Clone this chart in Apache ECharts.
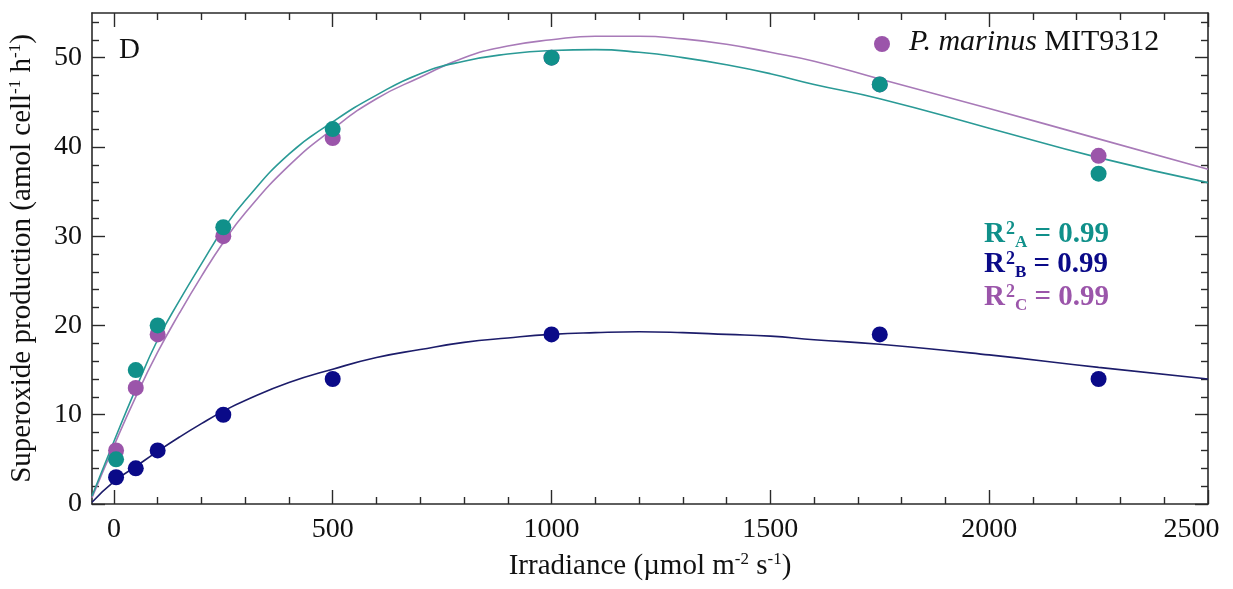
<!DOCTYPE html>
<html>
<head>
<meta charset="utf-8">
<script src="https://cdn.jsdelivr.net/npm/echarts@6/dist/echarts.min.js"></script>
<style>
html,body{margin:0;padding:0;background:#fff;}
#c{width:1233px;height:589px;}
</style>
</head>
<body>
<div id="c"></div>
<script>
// Measured points
const irradiance = [5, 50, 100, 250, 500, 1000, 1750, 2250];
const seriesA = [5, 15, 20, 31, 42, 50, 47, 37];
const seriesB = [3, 4, 6, 10, 14, 19, 19, 14];
const seriesC = [6, 13, 19, 30, 41, 50, 47, 39];

// Fitted curves
const fitX = [-50, 0, 50, 100, 150, 200, 250, 300, 400, 500, 600, 700, 800, 900, 1000, 1100, 1200, 1300, 1400, 1500, 1600, 1750, 2000, 2250, 2500];
const fitA = [0.9, 7.0, 12.9, 18.4, 22.8, 26.9, 30.8, 34.0, 39.2, 42.8, 45.8, 48.2, 49.6, 50.4, 50.8, 50.9, 50.6, 50.0, 49.2, 48.2, 47.0, 45.4, 42.1, 38.8, 36.0];
const fitB = [0.2, 2.5, 4.2, 5.9, 7.5, 9.0, 10.4, 11.6, 13.6, 15.1, 16.4, 17.3, 18.1, 18.6, 19.0, 19.2, 19.3, 19.2, 19.0, 18.8, 18.4, 17.9, 16.7, 15.3, 14.0];
const fitC = [0.7, 6.5, 12.0, 17.0, 21.4, 25.5, 29.3, 32.6, 37.9, 42.0, 45.4, 47.8, 50.0, 51.3, 52.0, 52.4, 52.4, 52.1, 51.5, 50.6, 49.6, 47.6, 44.3, 40.9, 37.5];

// Axis ticks
const xMajor = [0, 500, 1000, 1500, 2000, 2500];
const xMinor = [100, 200, 300, 400, 600, 700, 800, 900, 1100, 1200, 1300, 1400, 1600, 1700, 1800, 1900, 2100, 2200, 2300, 2400];
const yMajor = [0, 10, 20, 30, 40, 50];
const yMinor = [2, 4, 6, 8, 12, 14, 16, 18, 22, 24, 26, 28, 32, 34, 36, 38, 42, 44, 46, 48, 52, 54];

const legendLabel = 'P. marinus';
const legendStrain = 'MIT9312';
const r2Labels = ['A', 'B', 'C'];
const r2Values = ['0.99', '0.99', '0.99'];

const colA = '#10908a', colB = '#0a0a88', colC = '#9b55aa';
const lineA = '#2a9a96', lineB = '#1c1c6a', lineC = '#a87ab8';
const FONT = 'Liberation Serif';
const AXC = '#2a2a2a';

function pairs(xs, ys) { return xs.map((x, i) => [x, ys[i]]); }

function xAx(pos, vals, len, labels, line) {
  return {
    type: 'value', min: -50, max: 2500, position: pos, gridIndex: 0,
    axisLine: { show: line, onZero: false, lineStyle: { color: AXC, width: 1.6 } },
    axisTick: { show: true, inside: true, length: len, customValues: vals, lineStyle: { color: AXC, width: 1.4 } },
    axisLabel: labels ? {
      show: true, customValues: vals, margin: 12, fontFamily: FONT, fontSize: 28, color: '#111',
      formatter: v => (v === 2500 ? '{last|' + v + '}' : String(v)),
      rich: { last: { fontFamily: FONT, fontSize: 28, color: '#111', padding: [0, 33, 0, 0] } }
    } : { show: false },
    splitLine: { show: false }
  };
}
function yAx(pos, vals, len, labels, line) {
  return {
    type: 'value', min: 0, max: 55, position: pos, gridIndex: 0,
    axisLine: { show: line, onZero: false, lineStyle: { color: AXC, width: 1.6 } },
    axisTick: { show: true, inside: true, length: len, customValues: vals, lineStyle: { color: AXC, width: 1.4 } },
    axisLabel: labels ? { show: true, customValues: vals, margin: 10, fontFamily: FONT, fontSize: 28, color: '#111', formatter: v => String(v) } : { show: false },
    splitLine: { show: false }
  };
}

const xAxes = [
  xAx('bottom', xMajor, 14, true, true),
  xAx('bottom', xMinor, 7, false, false),
  xAx('top', xMajor, 14, false, true),
  xAx('top', xMinor, 7, false, false)
];
Object.assign(xAxes[0], {
  name: '{t|Irradiance (µmol m}{s|-2}{t| s}{s|-1}{t|)}',
  nameLocation: 'middle', nameGap: 47,
  nameTextStyle: {
    rich: {
      t: { fontFamily: FONT, fontSize: 29, color: '#111', lineHeight: 31 },
      s: { fontFamily: FONT, fontSize: 17, color: '#111', verticalAlign: 'top', lineHeight: 17 }
    }
  }
});
const yAxes = [
  yAx('left', yMajor, 13, true, true),
  yAx('left', yMinor, 7, false, false),
  yAx('right', yMajor, 13, false, true),
  yAx('right', yMinor, 7, false, false)
];
Object.assign(yAxes[0], {
  name: '{t|Superoxide production (amol cell}{s|-1}{t| h}{s|-1}{t|)}',
  nameLocation: 'middle', nameGap: 54, nameRotate: 90,
  nameTextStyle: {
    rich: {
      t: { fontFamily: FONT, fontSize: 29, color: '#111', lineHeight: 31 },
      s: { fontFamily: FONT, fontSize: 17, color: '#111', verticalAlign: 'top', lineHeight: 17 }
    }
  }
});

function lineSeries(ys, color) {
  return { type: 'line', xAxisIndex: 0, yAxisIndex: 0, data: pairs(fitX, ys), smooth: 0.5, showSymbol: false, symbol: 'none',
    lineStyle: { color: color, width: 1.6 }, silent: true, z: 2 };
}
function dotSeries(ys, color, z) {
  return { type: 'scatter', xAxisIndex: 0, yAxisIndex: 0, data: pairs(irradiance, ys), symbol: 'circle', symbolSize: 16,
    itemStyle: { color: color, opacity: 1 }, z: z };
}

const r2Colors = [colA, colB, colC];
const r2Y = [235, 265, 298];
const r2Graphics = r2Labels.map((lab, i) => ({
  type: 'text', left: 984, top: r2Y[i] - 18, z: 10,
  style: {
    text: '{r|R}{sup|2}{sub|' + lab + '}{r| = ' + r2Values[i] + '}',
    rich: {
      r: { fontFamily: FONT, fontSize: 29, fontWeight: 'bold', fill: r2Colors[i], lineHeight: 36 },
      sup: { fontFamily: FONT, fontSize: 18, fontWeight: 'bold', fill: r2Colors[i], verticalAlign: 'top', lineHeight: 18, padding: [3, 0, 0, 1] },
      sub: { fontFamily: FONT, fontSize: 17, fontWeight: 'bold', fill: r2Colors[i], verticalAlign: 'bottom', lineHeight: 17, padding: [0, 0, 2, 0] }
    }
  }
}));

const option = {
  animation: false,
  backgroundColor: '#fff',
  grid: { left: 92, right: 25, top: 13, bottom: 85, containLabel: false, outerBoundsMode: 'none' },
  xAxis: xAxes,
  yAxis: yAxes,
  series: [
    lineSeries(fitB, lineB),
    lineSeries(fitC, lineC),
    lineSeries(fitA, lineA),
    dotSeries(seriesB, colB, 3),
    dotSeries(seriesC, colC, 4),
    dotSeries(seriesA, colA, 5)
  ],
  graphic: [
    { type: 'text', left: 119, top: 36, z: 10, style: { text: 'D', fontFamily: FONT, fontSize: 29, fill: '#111' } },
    { type: 'circle', shape: { cx: 882, cy: 44, r: 8 }, style: { fill: colC }, z: 10 },
    { type: 'text', left: 909, top: 27, z: 10, style: {
        text: '{i|' + legendLabel + '}{n| ' + legendStrain + '}',
        rich: {
          i: { fontFamily: FONT, fontSize: 30, fontStyle: 'italic', fill: '#111' },
          n: { fontFamily: FONT, fontSize: 30, fill: '#111' }
        }
    } }
  ].concat(r2Graphics)
};

const chart = echarts.init(document.getElementById('c'), null, { renderer: 'canvas' });
chart.setOption(option);
</script>
</body>
</html>
